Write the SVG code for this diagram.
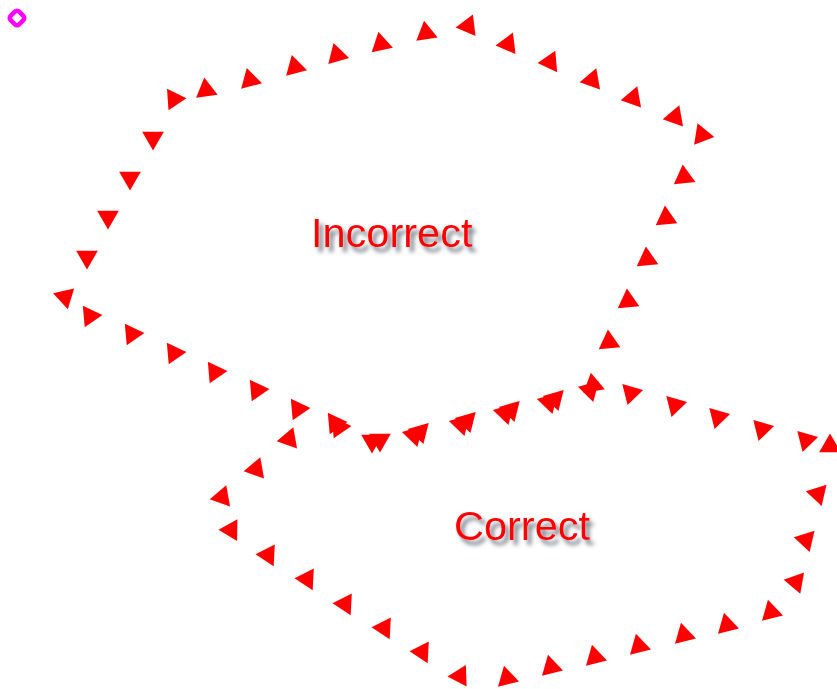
<svg xmlns="http://www.w3.org/2000/svg" xmlns:xlink="http://www.w3.org/1999/xlink" width="837" height="689" viewBox="0 0 837 689">
<style>
.tri{fill:#ff0000}
.lbl{font-family:"Liberation Sans",Arial,sans-serif;font-size:41.5px;fill:#ff0000}
</style>
<defs>
<polygon id="t" class="tri" points="0,-12.5 10.83,6.25 -10.83,6.25"/>
<filter id="sh" x="-10%" y="-30%" width="130%" height="180%">
<feGaussianBlur in="SourceAlpha" stdDeviation="2.2"/>
<feOffset dx="4" dy="5" result="b"/>
<feFlood flood-color="#5f6873" flood-opacity="0.85"/>
<feComposite in2="b" operator="in"/>
<feMerge><feMergeNode/><feMergeNode in="SourceGraphic"/></feMerge>
</filter>
</defs>
<rect width="837" height="689" fill="#ffffff"/>
<rect x="11" y="12" width="12" height="12" rx="3" transform="rotate(45 17 18)" fill="none" stroke="#ff00ff" stroke-width="4.5"/>
<g id="incorrect">
<use xlink:href="#t" transform="translate(65,297) rotate(47)"/>
<use xlink:href="#t" transform="translate(87,257) rotate(60)"/>
<use xlink:href="#t" transform="translate(108,217) rotate(60)"/>
<use xlink:href="#t" transform="translate(130,178) rotate(60)"/>
<use xlink:href="#t" transform="translate(153,138) rotate(60)"/>
<use xlink:href="#t" transform="translate(174,99) rotate(-34)"/>
<use xlink:href="#t" transform="translate(206,90) rotate(-8)"/>
<use xlink:href="#t" transform="translate(250,80) rotate(-15)"/>
<use xlink:href="#t" transform="translate(295,67) rotate(-15)"/>
<use xlink:href="#t" transform="translate(337,55) rotate(-16)"/>
<use xlink:href="#t" transform="translate(381,44) rotate(-12)"/>
<use xlink:href="#t" transform="translate(426,33) rotate(-9)"/>
<use xlink:href="#t" transform="translate(468,26) rotate(23)"/>
<use xlink:href="#t" transform="translate(508,44) rotate(23)"/>
<use xlink:href="#t" transform="translate(550,62) rotate(25)"/>
<use xlink:href="#t" transform="translate(592,80) rotate(20)"/>
<use xlink:href="#t" transform="translate(633,98) rotate(20)"/>
<use xlink:href="#t" transform="translate(675,117) rotate(20)"/>
<use xlink:href="#t" transform="translate(702,135) rotate(99)"/>
<use xlink:href="#t" transform="translate(684,177) rotate(114)"/>
<use xlink:href="#t" transform="translate(666,218) rotate(115)"/>
<use xlink:href="#t" transform="translate(647,259) rotate(115)"/>
<use xlink:href="#t" transform="translate(628,301) rotate(115)"/>
<use xlink:href="#t" transform="translate(609,342) rotate(115)"/>
<use xlink:href="#t" transform="translate(593,385) rotate(-10)"/>
<use xlink:href="#t" transform="translate(549,402) rotate(44)"/>
<use xlink:href="#t" transform="translate(505,413) rotate(44)"/>
<use xlink:href="#t" transform="translate(461,424) rotate(44)"/>
<use xlink:href="#t" transform="translate(414,435) rotate(44)"/>
<use xlink:href="#t" transform="translate(372,441) rotate(60)"/>
<use xlink:href="#t" transform="translate(335,423) rotate(-35)"/>
<use xlink:href="#t" transform="translate(298,409) rotate(-35)"/>
<use xlink:href="#t" transform="translate(257,390) rotate(-35)"/>
<use xlink:href="#t" transform="translate(215,372) rotate(-35)"/>
<use xlink:href="#t" transform="translate(174,353) rotate(-35)"/>
<use xlink:href="#t" transform="translate(132,334) rotate(-35)"/>
<use xlink:href="#t" transform="translate(90,316) rotate(-35)"/>
<text class="lbl" x="311" y="247" filter="url(#sh)">Incorrect</text>
</g>
<g id="correct">
<use xlink:href="#t" transform="translate(590,390) rotate(45)"/>
<use xlink:href="#t" transform="translate(555,399) rotate(44)"/>
<use xlink:href="#t" transform="translate(511,410) rotate(44)"/>
<use xlink:href="#t" transform="translate(467,421) rotate(44)"/>
<use xlink:href="#t" transform="translate(420,432) rotate(44)"/>
<use xlink:href="#t" transform="translate(380,440) rotate(60)"/>
<use xlink:href="#t" transform="translate(339,427) rotate(-35)"/>
<use xlink:href="#t" transform="translate(289,439) rotate(20)"/>
<use xlink:href="#t" transform="translate(256,469) rotate(20)"/>
<use xlink:href="#t" transform="translate(222,497) rotate(20)"/>
<use xlink:href="#t" transform="translate(231,530) rotate(31)"/>
<use xlink:href="#t" transform="translate(268,555) rotate(33)"/>
<use xlink:href="#t" transform="translate(307,579) rotate(33)"/>
<use xlink:href="#t" transform="translate(345,604) rotate(33)"/>
<use xlink:href="#t" transform="translate(384,628) rotate(33)"/>
<use xlink:href="#t" transform="translate(422,652) rotate(33)"/>
<use xlink:href="#t" transform="translate(460,676) rotate(28)"/>
<use xlink:href="#t" transform="translate(507,678) rotate(106)"/>
<use xlink:href="#t" transform="translate(551,667) rotate(106)"/>
<use xlink:href="#t" transform="translate(595,657) rotate(106)"/>
<use xlink:href="#t" transform="translate(639,646) rotate(106)"/>
<use xlink:href="#t" transform="translate(684,635) rotate(106)"/>
<use xlink:href="#t" transform="translate(727,625) rotate(106)"/>
<use xlink:href="#t" transform="translate(771,612) rotate(106)"/>
<use xlink:href="#t" transform="translate(796,582) rotate(40)"/>
<use xlink:href="#t" transform="translate(806,540) rotate(43)"/>
<use xlink:href="#t" transform="translate(818,494) rotate(43)"/>
<use xlink:href="#t" transform="translate(830,446) rotate(0)"/>
<use xlink:href="#t" transform="translate(806,440) rotate(76)"/>
<use xlink:href="#t" transform="translate(762,429) rotate(76)"/>
<use xlink:href="#t" transform="translate(718,417) rotate(76)"/>
<use xlink:href="#t" transform="translate(675,405) rotate(76)"/>
<use xlink:href="#t" transform="translate(631,393) rotate(76)"/>
<text class="lbl" x="454" y="540" filter="url(#sh)">Correct</text>
</g>
</svg>
